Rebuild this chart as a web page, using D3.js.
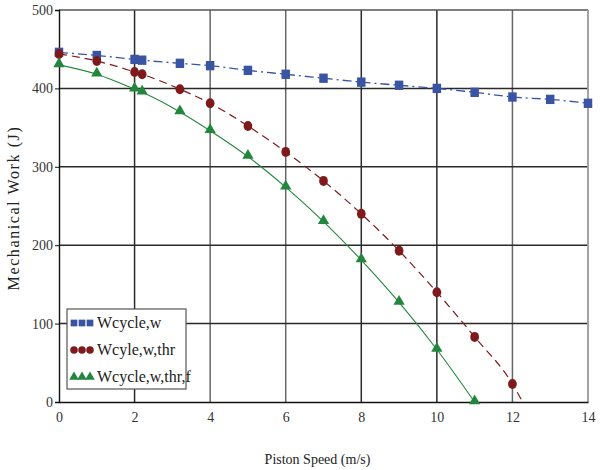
<!DOCTYPE html>
<html>
<head>
<meta charset="utf-8">
<script src="https://cdn.jsdelivr.net/npm/d3@7"></script>
<style>
  body { margin: 0; background: #fff; }
  text { font-family: "Liberation Serif", "DejaVu Serif", serif; fill: #222; }
</style>
</head>
<body>
<svg id="chart" width="600" height="470"></svg>
<script>
// speeds (m/s) where each series was sampled
const speedW = [0, 1, 2, 2.2, 3.2, 4, 5, 6, 7, 8, 9, 10, 11, 12, 13, 14];
const workW = [446, 442, 437, 436, 432, 429, 423, 418, 413, 408, 404, 400, 395, 389, 386, 381];

const speedThr = [0, 1, 2, 2.2, 3.2, 4, 5, 6, 7, 8, 9, 10, 11, 12];
const workThr = [444, 435, 421, 418, 399, 381, 352, 319, 282, 240, 193, 140, 83, 23];
// red curve continues past the last marker down to the axis
const thrEnd = [12.27, 0];

const speedF = [0, 1, 2, 2.2, 3.2, 4, 5, 6, 7, 8, 9, 10, 11];
const workF = [430, 418, 399, 395, 370, 346, 313, 274, 230, 181, 127, 67, 0];

const xTicks = [0, 2, 4, 6, 8, 10, 12, 14];
const yTicks = [0, 100, 200, 300, 400, 500];
const legendNames = ["Wcycle,w", "Wcyle,w,thr", "Wcycle,w,thr,f"];

// margins / plot box
var margin = {top: 10, right: 12, bottom: 68, left: 59},
    width = 600 - margin.left - margin.right,
    height = 470 - margin.top - margin.bottom;

var x = d3.scaleLinear().domain([0, 14]).range([0, width]);
var y = d3.scaleLinear().domain([0, 500]).range([height, 0]);

const svg = d3.select("#chart")
  .append("g")
    .attr("transform", "translate(" + margin.left + "," + margin.top + ")");

// grid lines
svg.selectAll(".vgrid")
  .data(xTicks.filter(d => d > 0 && d < 14))
  .enter().append("line")
    .attr("x1", d => x(d)).attr("x2", d => x(d))
    .attr("y1", 0).attr("y2", height)
    .style("stroke", (d, i) => (d == 4 || d == 6 || d == 12) ? "#666" : "#2a2a2a")
    .style("stroke-width", 1.5);

svg.selectAll(".hgrid")
  .data(yTicks.filter(d => d > 0 && d < 500))
  .enter().append("line")
    .attr("x1", 0).attr("x2", width)
    .attr("y1", d => y(d)).attr("y2", d => y(d))
    .style("stroke", "#2a2a2a")
    .style("stroke-width", 1.5);

// top and right frame
svg.append("line").attr("x1", 0).attr("x2", width).attr("y1", 0).attr("y2", 0)
  .style("stroke", "#555").style("stroke-width", 1.6);
svg.append("line").attr("x1", width).attr("x2", width).attr("y1", 0).attr("y2", height)
  .style("stroke", "#999").style("stroke-width", 1.8);

// axes
var xAxis = svg.append("g")
  .attr("transform", "translate(0," + height + ")")
  .call(d3.axisBottom(x).tickValues(xTicks).tickSize(0).tickPadding(10));
var yAxis = svg.append("g")
  .call(d3.axisLeft(y).tickValues(yTicks).tickSize(4).tickPadding(2));

[xAxis, yAxis].forEach(function(a) {
  a.attr("font-family", '"Liberation Serif", serif').attr("font-size", 14);
  a.select(".domain").style("stroke", "#111").style("stroke-width", 1.4);
  a.selectAll(".tick line").style("stroke", "#111");
  a.selectAll("text")
    .style("font-family", '"Liberation Serif", serif')
    .style("font-size", "14px")
    .style("fill", "#333");
});

// clip so curves stay in the plot box
svg.append("clipPath").attr("id", "plotclip")
  .append("rect").attr("width", width).attr("height", height + 2).attr("y", -2);

var line = d3.line()
  .x(function(d) { return x(d[0]); })
  .y(function(d) { return y(d[1]); })
  .curve(d3.curveMonotoneX);

const colW = "#3a54a4", colThr = "#7e1a1c", colF = "#22873c";

var ptsW = speedW.map((s, i) => [s, workW[i]]);
var ptsThr = speedThr.map((s, i) => [s, workThr[i]]);
var ptsF = speedF.map((s, i) => [s, workF[i]]);

svg.append("path")
  .attr("clip-path", "url(#plotclip)")
  .attr("d", line(ptsW))
  .style("fill", "none").style("stroke", colW).style("stroke-width", 1.3)
  .style("stroke-dasharray", "9,4,2,4");

svg.append("path")
  .attr("clip-path", "url(#plotclip)")
  .attr("d", line(ptsThr.concat([thrEnd])))
  .style("fill", "none").style("stroke", colThr).style("stroke-width", 1.2)
  .style("stroke-dasharray", "8,5");

svg.append("path")
  .attr("clip-path", "url(#plotclip)")
  .attr("d", line(ptsF))
  .style("fill", "none").style("stroke", colF).style("stroke-width", 1.1);

// markers
var sq = d3.symbol().type(d3.symbolSquare).size(72);
var ci = d3.symbol().type(d3.symbolCircle).size(60);
var tr = d3.symbol().type(d3.symbolTriangle).size(55);

svg.selectAll(".mW").data(ptsW).enter().append("path")
  .attr("transform", d => "translate(" + x(d[0]) + "," + y(d[1]) + ") scale(1,1.1)")
  .attr("d", sq).style("fill", colW);
svg.selectAll(".mThr").data(ptsThr).enter().append("path")
  .attr("transform", d => "translate(" + x(d[0]) + "," + y(d[1]) + ") scale(1,1.15)")
  .attr("d", ci).style("fill", colThr);
svg.selectAll(".mF").data(ptsF).enter().append("path")
  .attr("transform", d => "translate(" + x(d[0]) + "," + (y(d[1]) - 1) + ")")
  .attr("d", tr).style("fill", colF);

// legend
var legend = svg.append("g").attr("transform", "translate(8,299)");
legend.append("rect")
  .attr("width", 119).attr("height", 80)
  .style("fill", "#fff").style("stroke", "#555").style("stroke-width", 1.2);

var legSyms = [
  {sym: d3.symbol().type(d3.symbolSquare).size(45), col: colW},
  {sym: d3.symbol().type(d3.symbolCircle).size(45), col: colThr},
  {sym: d3.symbol().type(d3.symbolTriangle).size(40), col: colF}
];
legendNames.forEach(function(name, i) {
  var row = legend.append("g").attr("transform", "translate(0," + (14 + i * 27) + ")");
  for (let k = 0; k < 3; k++) {
    row.append("path")
      .attr("transform", "translate(" + (7 + k * 8) + ",0)")
      .attr("d", legSyms[i].sym)
      .style("fill", legSyms[i].col);
  }
  row.append("text")
    .attr("x", 30).attr("y", 5)
    .style("font-size", "16px")
    .style("fill", "#222")
    .text(name);
});

// axis titles
svg.append("text")
  .attr("x", width / 2 - 6).attr("y", height + 62)
  .attr("text-anchor", "middle")
  .style("font-size", "14px")
  .style("fill", "#222")
  .text("Piston Speed (m/s)");

svg.append("text")
  .attr("transform", "translate(-40," + (height / 2 + 2) + ") rotate(-90)")
  .attr("text-anchor", "middle")
  .style("font-size", "16px")
  .style("letter-spacing", "1.6px")
  .style("fill", "#222")
  .text("Mechanical Work (J)");
</script>
</body>
</html>
